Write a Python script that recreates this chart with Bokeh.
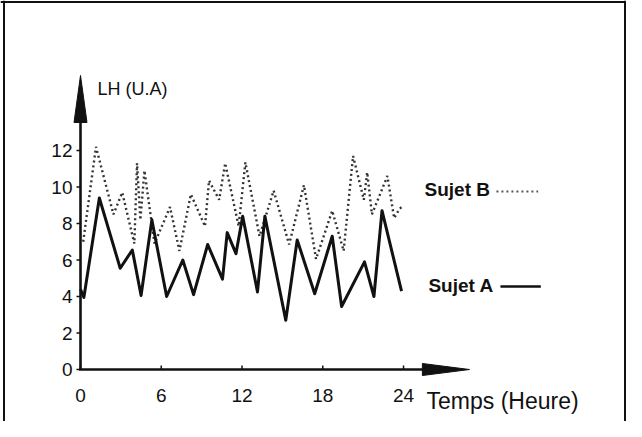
from bokeh.plotting import figure
from bokeh.models import Range1d, Span
from bokeh.core.properties import value
from bokeh.embed import file_html
from bokeh.resources import INLINE

# ---- data ----
hours_a = [0.0, 0.25, 1.4, 2.95, 3.85, 4.5, 5.3, 6.4, 7.6, 8.4, 9.45, 10.55, 10.9,
           11.55, 12.05, 13.15, 13.7, 15.25, 16.1, 17.4, 18.7, 19.4, 21.1, 21.8,
           22.4, 23.85]
lh_a = [4.4, 3.95, 9.4, 5.55, 6.55, 4.05, 8.2, 4.0, 6.0, 4.1, 6.85, 4.95, 7.5,
        6.35, 8.4, 4.25, 8.4, 2.7, 7.1, 4.15, 7.3, 3.45, 5.9, 4.0, 8.7, 4.3]

hours_b = [0.2, 1.15, 2.45, 3.1, 4.0, 4.2, 4.45, 4.75, 5.5, 6.65, 7.35, 8.2, 9.25,
           9.55, 10.3, 10.75, 11.75, 12.25, 13.3, 14.35, 15.5, 16.6, 17.5, 18.7,
           19.55, 20.25, 21.05, 21.3, 21.65, 22.8, 23.3, 23.7, 24.0]
lh_b = [7.0, 12.2, 8.5, 9.7, 6.9, 11.3, 8.2, 10.9, 6.9, 8.9, 6.5, 9.6, 7.85,
        10.35, 9.3, 11.3, 7.85, 11.35, 7.3, 9.8, 6.85, 10.1, 6.05, 8.7,
        6.5, 11.7, 9.3, 10.8, 8.5, 10.6, 8.3, 8.8, 9.0]

x_ticks = [0, 6, 12, 18, 24]
x_tick_labels = ["0", "6", "12", "18", "24"]
y_ticks = [0, 2, 4, 6, 8, 10, 12]
y_tick_labels = ["0", "2", "4", "6", "8", "10", "12"]

x_title = "Temps (Heure)"
y_title = "LH (U.A)"
name_a = "Sujet A"
name_b = "Sujet B"

# ---- geometry (pixel scale of the data axes) ----
W, H = 626, 421
PX_X = 13.46   # px per hour
PX_Y = 18.25   # px per LH unit
OX, OY = 80, 369  # canvas position of the origin

FONT = value("Liberation Sans")

p = figure(width=W, height=H,
           x_range=Range1d(-OX / PX_X, (W - OX) / PX_X),
           y_range=Range1d(-(H - OY) / PX_Y, OY / PX_Y),
           output_backend="svg", toolbar_location=None,
           x_axis_location=None, y_axis_location=None, min_border=0)
p.grid.visible = False
p.outline_line_color = None
p.background_fill_color = "white"
p.border_fill_color = "white"

# frame border (left, top, right)
for loc, dim in [((3.5 - OX) / PX_X, "height"), ((624.5 - OX) / PX_X, "height"),
                 ((OY - 1.5) / PX_Y, "width")]:
    p.add_layout(Span(location=loc, dimension=dim, line_color="#111", line_width=2))

# y axis with arrow
y_base = (OY - 122) / PX_Y
y_tip = (OY - 75) / PX_Y
hw = 6.5 / PX_X
p.segment(x0=[0], y0=[0], x1=[0], y1=[y_base + 0.2], line_color="#111", line_width=2.6)
p.patch(x=[-hw, 0, hw], y=[y_base, y_tip, y_base], fill_color="#111", line_color="#111")

# x axis with arrow
x_base = 25.4
x_tip = 28.9
hh = 6 / PX_Y
p.segment(x0=[-0.1], y0=[0], x1=[x_base + 0.2], y1=[0], line_color="#111", line_width=2.6)
p.patch(x=[x_base, x_tip, x_base], y=[-hh, 0, hh], fill_color="#111", line_color="#111")

# ticks
p.segment(x0=[-4 / PX_X] * len(y_ticks), y0=y_ticks, x1=[0] * len(y_ticks), y1=y_ticks,
          line_color="#111", line_width=1.5)
p.segment(x0=x_ticks, y0=[0] * len(x_ticks), x1=x_ticks, y1=[4 / PX_Y] * len(x_ticks),
          line_color="#111", line_width=1.5)

# tick labels
p.text(x=[0] * len(y_ticks), y=y_ticks, text=y_tick_labels, x_offset=-8,
       text_align="right", text_baseline="middle", text_font=FONT,
       text_font_size="19px", text_color="#111")
p.text(x=x_ticks, y=[0] * len(x_ticks), text=x_tick_labels, y_offset=26,
       text_align="center", text_baseline="middle", text_font=FONT,
       text_font_size="19px", text_color="#111")

# axis titles
p.text(x=[24], y=[0], text=[x_title], x_offset=23, y_offset=31,
       text_align="left", text_baseline="middle", text_font=FONT,
       text_font_size="23px", text_color="#111")
p.text(x=[0], y=[15.35], text=[y_title], x_offset=17,
       text_align="left", text_baseline="middle", text_font=FONT,
       text_font_size="18px", text_color="#111")

# series
p.line(hours_b, lh_b, line_color="#333", line_width=2.4, line_dash="2 3")
p.line(hours_a, lh_a, line_color="#111", line_width=3, line_join="round")

# legend (hand placed like the original)
p.text(x=[25.56], y=[9.86], text=[name_b], text_align="left", text_baseline="middle",
       text_font=FONT, text_font_size="19px", text_font_style="bold", text_color="#111")
p.line([30.9, 34.0], [9.75, 9.75], line_color="#555", line_width=2, line_dash="2 3")
p.text(x=[25.85], y=[4.6], text=[name_a], text_align="left", text_baseline="middle",
       text_font=FONT, text_font_size="19px", text_font_style="bold", text_color="#111")
p.line([31.2, 34.2], [4.55, 4.55], line_color="#111", line_width=2.5)

open("out.html", "w").write(file_html(p, INLINE))
